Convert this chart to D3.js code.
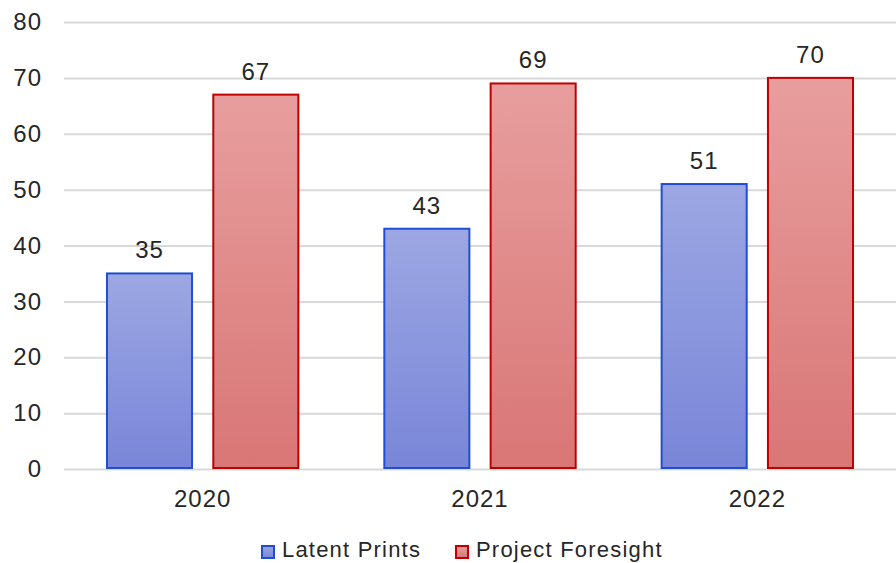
<!DOCTYPE html>
<html>
<head>
<meta charset="utf-8">
<script src="https://cdn.jsdelivr.net/npm/d3@7"></script>
<style>
  html, body { margin: 0; padding: 0; background: #fff; }
  svg { display: block; font-family: "Liberation Sans", Arial, sans-serif; }
</style>
</head>
<body>
<svg id="chart" width="896" height="563"></svg>
<script>
// Yearly counts for the two programs
const years = ["2020", "2021", "2022"];
const seriesNames = ["Latent Prints", "Project Foresight"];
const latentPrints = [35, 43, 51];
const projectForesight = [67, 69, 70];
const yTicks = [0, 10, 20, 30, 40, 50, 60, 70, 80];

const seriesValues = [latentPrints, projectForesight];
const colors = [
  { top: "#9ca7e3", bottom: "#7986d8", stroke: "#1f4fd0" },
  { top: "#e89e9e", bottom: "#d97676", stroke: "#c00000" }
];
const textColor = "#262626";

const svg = d3.select("#chart");
const W = 896, H = 563;
const margin = { left: 64, right: 0, top: 22, bottom: 94 };
const innerH = H - margin.top - margin.bottom;

const x0 = d3.scaleBand().domain(years)
  .range([margin.left, W - margin.right])
  .paddingInner(0.31).paddingOuter(0.155);
const x1 = d3.scaleBand().domain(seriesNames)
  .range([0, x0.bandwidth()])
  .paddingInner(0.2).paddingOuter(0);
const y = d3.scaleLinear().domain([0, 80]).range([margin.top + innerH, margin.top]);

// Vertical gradient for each series
const defs = svg.append("defs");
colors.forEach((c, i) => {
  const g = defs.append("linearGradient").attr("id", "grad" + i)
    .attr("x1", 0).attr("y1", 0).attr("x2", 0).attr("y2", 1);
  g.append("stop").attr("offset", "0%").attr("stop-color", c.top);
  g.append("stop").attr("offset", "100%").attr("stop-color", c.bottom);
});

// Horizontal gridlines and value axis labels
const yAxis = d3.axisLeft(y).tickValues(yTicks)
  .tickSize(-(W - margin.left - margin.right)).tickPadding(22);
const gy = svg.append("g").attr("transform", `translate(${margin.left},0)`).call(yAxis);
gy.select(".domain").remove();
gy.selectAll(".tick line").attr("stroke", "#d9d9d9").attr("stroke-width", 2);
gy.selectAll(".tick text").attr("fill", textColor).attr("font-size", 24)
  .attr("letter-spacing", 1)
  .attr("font-family", "Liberation Sans, Arial, sans-serif");

// Bars, grouped by year
const groups = svg.append("g").selectAll("g").data(years).join("g")
  .attr("transform", d => `translate(${x0(d)},0)`);

const cells = (d, yi) => seriesNames.map((s, si) => ({ s, si, v: seriesValues[si][yi] }));

groups.selectAll("rect")
  .data(cells)
  .join("rect")
  .attr("x", d => x1(d.s))
  .attr("y", d => y(d.v))
  .attr("width", x1.bandwidth())
  .attr("height", d => y(0) - y(d.v) - 1)
  .attr("fill", d => `url(#grad${d.si})`)
  .attr("stroke", d => colors[d.si].stroke)
  .attr("stroke-width", 2);

groups.selectAll("text.val")
  .data(cells)
  .join("text")
  .attr("class", "val")
  .attr("x", d => x1(d.s) + x1.bandwidth() / 2)
  .attr("y", d => y(d.v) - 15)
  .attr("text-anchor", "middle")
  .attr("font-size", 24)
  .attr("letter-spacing", 1)
  .attr("fill", textColor)
  .text(d => d.v);

// Category axis labels
const xAxis = d3.axisBottom(x0).tickSize(0).tickPadding(21);
const gx = svg.append("g").attr("transform", `translate(0,${y(0)})`).call(xAxis);
gx.select(".domain").remove();
gx.selectAll(".tick text").attr("fill", textColor).attr("font-size", 24)
  .attr("letter-spacing", 1)
  .attr("font-family", "Liberation Sans, Arial, sans-serif");

// Legend
const legend = svg.append("g").attr("transform", "translate(0,557)");
const legendX = [262, 456];
seriesNames.forEach((s, i) => {
  const g = legend.append("g").attr("transform", `translate(${legendX[i]},0)`);
  g.append("rect").attr("x", 0).attr("y", -11).attr("width", 12).attr("height", 12)
    .attr("fill", `url(#grad${i})`).attr("stroke", colors[i].stroke).attr("stroke-width", 2);
  g.append("text").attr("x", 20).attr("y", 0)
    .attr("font-size", 22).attr("letter-spacing", 1.2).attr("fill", textColor).text(s);
});
</script>
</body>
</html>
